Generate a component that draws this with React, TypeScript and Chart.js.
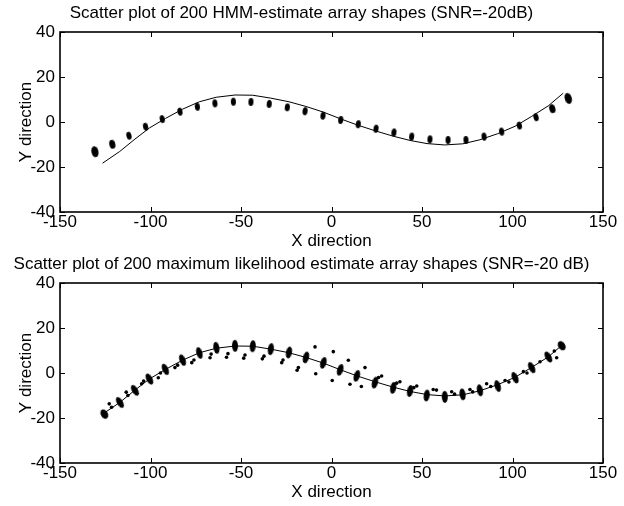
import React, { useEffect, useRef } from "react";
import { Chart, registerables } from "chart.js";
Chart.register(...registerables);

// ---- data ----
const xTickValues = [-150, -100, -50, 0, 50, 100, 150];
const yTickValues = [-40, -20, 0, 20, 40];

// true array shape (solid line)
const trueX = [-126.5, -117, -108.6, -100.5, -91.7, -82.3, -73, -63.7, -53.3, -43.5, -33.5, -23.5, -14.1, -4.5, 5, 14.5, 24.5, 34.1, 43.4, 52.8, 62.5, 72.5, 82, 91.8, 101.4, 110.6, 119.8, 128];
const trueY = [-18.3, -13.1, -7.6, -2.6, 1.6, 5.7, 9.0, 11.0, 12.0, 11.9, 10.6, 9.0, 6.9, 4.4, 1.4, -1.4, -4.0, -6.3, -8.2, -9.6, -10.2, -9.7, -7.9, -5.2, -1.9, 2.5, 7.2, 12.8];

// HMM estimate clusters (top)
const hmmX = [-130.7, -121.1, -111.9, -102.7, -93.5, -83.7, -74.1, -64.4, -54.2, -44.5, -34.4, -24.4, -14.6, -4.7, 5.1, 14.8, 24.6, 34.5, 44.3, 54.4, 64.4, 74.3, 84.3, 94, 103.8, 113, 122, 130.8];
const hmmY = [-13.2, -9.9, -6.1, -2.1, 1.3, 4.6, 6.8, 8.3, 9.0, 8.9, 8.0, 6.5, 4.8, 2.8, 0.9, -1.0, -3.0, -4.7, -6.5, -7.7, -8.0, -8.0, -6.5, -4.3, -1.6, 2.1, 5.9, 10.5];

// maximum likelihood estimate clusters (bottom)
const mlX = [-125.5, -116.9, -108.6, -100.6, -91.8, -82.3, -73.0, -63.6, -53.3, -43.5, -33.5, -23.5, -14.1, -4.5, 4.8, 14, 24, 34.1, 43.4, 52.6, 62.6, 72.4, 82, 91.8, 101.4, 110.6, 119.8, 127.2];
const mlY = [-18.3, -13.1, -7.7, -2.7, 1.6, 5.7, 8.9, 11.2, 12.1, 11.9, 10.6, 9.1, 6.9, 4.5, 1.4, -1.3, -4.3, -6.6, -8.0, -10.0, -10.6, -9.5, -7.7, -5.8, -2.1, 2.4, 7.1, 12.1];

// scattered outlier estimates (bottom)
const outX = [-122.8, -121.5, -113.4, -112.5, -104.9, -103.8, -95.7, -94.5, -86.5, -85, -77.2, -76, -67.1, -66.5, -57.2, -58, -47.8, -48.5, -37.3, -38.2, -26.8, -27.5, -18.3, -19, -9.1, -8.7, 1.0, 0.4, 9.3, 10.2, 18.5, 16.5, 27.7, 26, 37.8, 36, 47.1, 45.5, 56.2, 58, 66.4, 68, 76.5, 78, 85.7, 88, 95.9, 98, 106, 108, 115.2, 123.1, 124.4];
const outY = [-13.7, -15.2, -8.5, -10.0, -4.8, -3.6, -2.1, 0.0, 2.4, 3.5, 4.6, 5.8, 6.8, 8.4, 8.6, 7.0, 8.0, 6.6, 7.5, 6.3, 5.8, 4.6, 2.4, 1.2, 11.6, -0.3, 9.5, -3.3, 5.7, -5.0, 2.4, -6.0, -1.3, -2.0, -3.9, -4.5, -5.8, -6.5, -7.3, -7.6, -8.3, -9.4, -7.3, -8.4, -4.8, -6.0, -3.3, -4.0, 0.6, 0.0, 5.0, 9.8, 6.8];

const topTitle = "Scatter plot of 200 HMM-estimate array shapes (SNR=-20dB)";
const bottomTitle = "Scatter plot of 200 maximum likelihood estimate array shapes (SNR=-20 dB)";
const xLabel = "X direction";
const yLabel = "Y direction";

const FONT = "'Liberation Sans', Arial, Helvetica, sans-serif";

function ellipseImg(w: number, h: number): HTMLCanvasElement {
  const c = document.createElement("canvas");
  c.width = w;
  c.height = h;
  const g = c.getContext("2d")!;
  g.fillStyle = "#000";
  g.beginPath();
  g.ellipse(w / 2, h / 2, w / 2, h / 2, 0, 0, Math.PI * 2);
  g.fill();
  return c;
}

const boxPlugin = {
  id: "matlabBox",
  afterDraw(chart: any) {
    const { ctx, chartArea: a, scales } = chart;
    ctx.save();
    ctx.strokeStyle = "#000";
    ctx.lineWidth = 1;
    ctx.beginPath();
    const L = 5;
    for (const v of xTickValues) {
      const p = Math.round(scales.x.getPixelForValue(v)) + 0.5;
      ctx.moveTo(p, a.bottom);
      ctx.lineTo(p, a.bottom - L);
      ctx.moveTo(p, a.top);
      ctx.lineTo(p, a.top + L);
    }
    for (const v of yTickValues) {
      const p = Math.round(scales.y.getPixelForValue(v)) + 0.5;
      ctx.moveTo(a.left, p);
      ctx.lineTo(a.left + L, p);
      ctx.moveTo(a.right, p);
      ctx.lineTo(a.right - L, p);
    }
    ctx.stroke();
    ctx.lineWidth = 1.6;
    ctx.strokeRect(a.left, a.top, a.right - a.left, a.bottom - a.top);
    ctx.restore();
  },
};

function tiltDeg(chart: any, xs: number[], ys: number[], i: number): number {
  const sx = chart.scales.x, sy = chart.scales.y;
  if (!sx || !sy) return 0;
  const i0 = Math.max(0, i - 1), i1 = Math.min(xs.length - 1, i + 1);
  const dx = sx.getPixelForValue(xs[i1]) - sx.getPixelForValue(xs[i0]);
  const dy = sy.getPixelForValue(ys[i1]) - sy.getPixelForValue(ys[i0]);
  return (Math.atan2(dy, dx) * 180) / Math.PI;
}

function makeConfig(title: string, datasets: any[]): any {
  return {
    type: "scatter",
    data: { datasets },
    options: {
      animation: false,
      responsive: false,
      maintainAspectRatio: false,
      layout: { padding: { left: 0, right: 21, top: 0, bottom: 0 } },
      plugins: {
        legend: { display: false },
        tooltip: { enabled: false },
        title: {
          display: true,
          text: title,
          color: "#000",
          font: { family: FONT, size: 17, weight: "normal" },
          padding: { top: 3, bottom: 8.6 },
        },
      },
      scales: {
        x: {
          type: "linear",
          min: -150,
          max: 150,
          ticks: { stepSize: 50, color: "#000", font: { family: FONT, size: 17 }, padding: 0, maxRotation: 0, autoSkip: false },
          grid: { display: false, drawTicks: false },
          border: { display: false },
          title: { display: true, text: xLabel, color: "#000", font: { family: FONT, size: 17 }, padding: { top: 0, bottom: 1 } },
          afterFit: (s: any) => {
            s.height = 41;
          },
        },
        y: {
          type: "linear",
          min: -40,
          max: 40,
          ticks: { stepSize: 20, color: "#000", font: { family: FONT, size: 17 }, padding: 5 },
          grid: { display: false, drawTicks: false },
          border: { display: false },
          title: { display: true, text: yLabel, color: "#000", font: { family: FONT, size: 17 }, padding: { top: 16, bottom: 0 } },
          afterFit: (s: any) => {
            s.width = 60;
          },
        },
      },
    },
    plugins: [boxPlugin],
  };
}

function lineDataset() {
  return {
    label: "true shape",
    data: trueX.map((x, i) => ({ x, y: trueY[i] })),
    showLine: true,
    borderColor: "#000",
    borderWidth: 1,
    pointRadius: 0,
    fill: false,
  };
}

export default function App() {
  const topRef = useRef<HTMLCanvasElement | null>(null);
  const botRef = useRef<HTMLCanvasElement | null>(null);

  useEffect(() => {
    const hmmImgs = hmmX.map((_, i) => {
      const n = hmmX.length;
      if (i === 0 || i === n - 1) return ellipseImg(7, 11);
      if (i === 1 || i === n - 2) return ellipseImg(6, 9);
      return ellipseImg(5, 8);
    });
    const mlImgs = mlX.map((_, i) => {
      const n = mlX.length;
      if (i === 0 || i === n - 1) return ellipseImg(7, 10);
      return ellipseImg(6, 12);
    });

    const top = new Chart(
      topRef.current!,
      makeConfig(topTitle, [
        lineDataset(),
        {
          label: "HMM",
          data: hmmX.map((x, i) => ({ x, y: hmmY[i] })),
          pointStyle: (c: any) => hmmImgs[c.dataIndex] || hmmImgs[2],
          pointRadius: 4,
          rotation: (c: any) => 0.5 * tiltDeg(c.chart, hmmX, hmmY, c.dataIndex ?? 0),
          backgroundColor: "#000",
          borderColor: "#000",
        },
      ])
    );
    const bottom = new Chart(
      botRef.current!,
      makeConfig(bottomTitle, [
        lineDataset(),
        {
          label: "ML",
          data: mlX.map((x, i) => ({ x, y: mlY[i] })),
          pointStyle: (c: any) => mlImgs[c.dataIndex] || mlImgs[2],
          pointRadius: 5,
          rotation: (c: any) => 0.8 * tiltDeg(c.chart, mlX, mlY, c.dataIndex ?? 0),
          backgroundColor: "#000",
          borderColor: "#000",
        },
        {
          label: "ML outliers",
          data: outX.map((x, i) => ({ x, y: outY[i] })),
          pointStyle: "circle",
          pointRadius: 1.8,
          borderWidth: 0,
          backgroundColor: "#000",
          borderColor: "#000",
        },
      ])
    );
    return () => {
      top.destroy();
      bottom.destroy();
    };
  }, []);

  return (
    <div style={{ position: "absolute", left: 0, top: 0, width: 624, height: 506, background: "#fff" }}>
      <canvas ref={topRef} width={624} height={253} style={{ position: "absolute", left: 0, top: 0, display: "block" }} />
      <canvas ref={botRef} width={624} height={253} style={{ position: "absolute", left: 0, top: 251, display: "block" }} />
    </div>
  );
}
